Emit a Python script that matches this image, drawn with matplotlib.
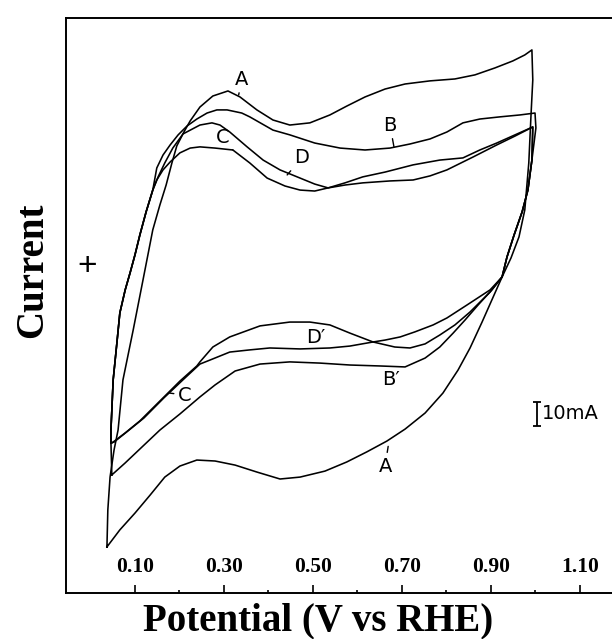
import matplotlib.pyplot as plt

# Cyclic voltammograms A-D, potential in V vs RHE, current in mA.
# Steep rise at the 0.05 V vertex shared by the B, C and D anodic sweeps
rise_v = [0.046, 0.046, 0.051, 0.060, 0.066, 0.078, 0.089, 0.100, 0.111, 0.125, 0.140]
rise_i = [-59.6, -54.2, -33.3, -16.7, -5.4, 4.2, 11.3, 18.8, 27.1, 36.7, 45.8]

# Fall from the 1.0 V vertex to the common crossing point (B, C, D)
fall_v = [0.992, 0.983, 0.970, 0.952, 0.936, 0.925]
fall_i = [58.3, 45.8, 36.7, 27.1, 17.9, 9.6]

# Curve A
a_up_v = [0.037, 0.039, 0.044, 0.053, 0.062, 0.073, 0.096, 0.118, 0.140, 0.156, 0.170,
          0.183, 0.194, 0.210, 0.224, 0.246, 0.275, 0.309, 0.336, 0.374, 0.410, 0.448,
          0.493, 0.538, 0.576, 0.617, 0.662, 0.707, 0.763, 0.819, 0.864, 0.909, 0.949,
          0.976, 0.992]
a_up_i = [-102.9, -87.5, -73.8, -62.5, -54.2, -33.3, -12.5, 8.3, 29.2, 39.6, 47.9,
          57.1, 64.2, 70.0, 74.6, 80.4, 85.0, 87.1, 84.6, 79.2, 75.0, 72.9,
          73.8, 77.1, 80.8, 84.6, 87.9, 90.0, 91.3, 92.1, 93.8, 96.7, 99.6,
          102.1, 104.2]
a_down_v = [0.994, 0.990, 0.985, 0.976, 0.963, 0.945, 0.925, 0.902, 0.880, 0.853, 0.826,
            0.792, 0.752, 0.707, 0.666, 0.621, 0.576, 0.527, 0.471, 0.426, 0.374, 0.325,
            0.280, 0.239, 0.201, 0.167, 0.134, 0.100, 0.066, 0.037]
a_down_i = [91.7, 77.1, 57.1, 37.5, 26.3, 17.5, 9.6, 0.0, -9.2, -20.0, -29.2,
            -38.8, -47.1, -53.8, -58.8, -63.3, -67.5, -71.3, -73.8, -74.6, -71.7, -68.8,
            -67.1, -66.7, -69.2, -73.8, -81.3, -88.8, -95.8, -102.9]

# Curve B
b_up_v = [0.149, 0.163, 0.179, 0.197, 0.217, 0.239, 0.262, 0.284, 0.307, 0.340, 0.358,
          0.410, 0.448, 0.504, 0.561, 0.617, 0.673, 0.718, 0.763, 0.801, 0.837, 0.875,
          0.920, 0.965, 0.999, 1.001]
b_up_i = [55.0, 60.4, 64.6, 68.8, 72.5, 75.4, 77.9, 79.2, 79.2, 77.9, 76.3,
          70.8, 68.8, 65.4, 63.3, 62.5, 63.3, 65.0, 67.1, 70.0, 73.8, 75.4,
          76.3, 77.1, 77.9, 71.7]
b_down_v = [0.902, 0.871, 0.842, 0.815, 0.785, 0.752, 0.707, 0.651, 0.583, 0.516, 0.448,
            0.381, 0.325, 0.280, 0.246, 0.201, 0.156, 0.111, 0.078, 0.048]
b_down_i = [4.2, -2.1, -8.3, -13.8, -19.6, -24.2, -27.9, -27.5, -27.1, -26.3, -25.8,
            -26.7, -29.6, -35.4, -40.4, -47.5, -54.2, -62.1, -67.9, -72.9]

# Curve C
c_up_v = [0.149, 0.163, 0.179, 0.201, 0.224, 0.246, 0.280, 0.320, 0.358, 0.397, 0.437,
          0.471, 0.504, 0.534, 0.572, 0.612, 0.673, 0.725, 0.763, 0.801, 0.837, 0.860,
          0.913, 0.954, 0.994]
c_up_i = [50.0, 54.2, 57.5, 61.3, 63.3, 63.8, 63.3, 62.5, 57.1, 50.8, 47.5,
          45.8, 45.4, 46.7, 47.9, 48.8, 49.6, 50.0, 51.7, 54.2, 57.5, 59.6,
          64.6, 68.3, 72.1]
c_down_v = [0.898, 0.846, 0.801, 0.770, 0.729, 0.696, 0.662, 0.635, 0.583, 0.538, 0.471,
            0.403, 0.358, 0.313, 0.269, 0.246, 0.210, 0.165, 0.120, 0.084, 0.053]
c_down_i = [4.2, -2.1, -7.5, -10.4, -13.3, -15.4, -16.7, -17.5, -19.2, -20.0, -20.4,
            -20.0, -20.8, -21.7, -25.0, -26.7, -32.9, -40.8, -49.2, -54.6, -59.2]

# Curve D
d_up_v = [0.152, 0.167, 0.185, 0.208, 0.246, 0.273, 0.291, 0.313, 0.352, 0.388, 0.426,
          0.471, 0.504, 0.534, 0.572, 0.612, 0.662, 0.725, 0.785, 0.837, 0.875, 0.913,
          0.954, 0.994]
d_up_i = [51.3, 57.1, 63.3, 69.2, 72.9, 73.8, 72.9, 70.0, 63.8, 58.3, 54.2,
          50.8, 48.3, 46.7, 48.8, 51.3, 53.3, 56.3, 58.3, 59.2, 62.5, 65.4,
          68.8, 72.1]
d_down_v = [0.898, 0.853, 0.819, 0.785, 0.752, 0.718, 0.684, 0.635, 0.583, 0.538, 0.493,
            0.448, 0.381, 0.313, 0.275, 0.246, 0.239, 0.201, 0.156, 0.111, 0.078, 0.048]
d_down_i = [3.3, -5.0, -10.4, -14.6, -18.3, -20.0, -19.6, -17.5, -13.8, -10.4, -9.2,
            -9.2, -10.8, -15.4, -19.6, -25.8, -27.5, -33.8, -42.1, -50.4, -55.4, -59.6]

b_start_v, b_start_i = [0.048], [-72.9]

loops = [
    (a_up_v + a_down_v, a_up_i + a_down_i),
    (b_start_v + rise_v + b_up_v + fall_v + b_down_v,
     b_start_i + rise_i + b_up_i + fall_i + b_down_i),
    (rise_v + c_up_v + fall_v + c_down_v + rise_v[:1],
     rise_i + c_up_i + fall_i + c_down_i + rise_i[:1]),
    (rise_v + d_up_v + fall_v + d_down_v,
     rise_i + d_up_i + fall_i + d_down_i),
]

major_ticks = [0.10, 0.30, 0.50, 0.70, 0.90, 1.10]
major_labels = ['0.10', '0.30', '0.50', '0.70', '0.90', '1.10']
minor_ticks = [0.20, 0.40, 0.60, 0.80, 1.00]

serif_bold = dict(family='Liberation Serif', weight='bold')

fig = plt.figure(figsize=(6.12, 6.39), dpi=100)
ax = fig.add_axes([66 / 612, 1 - 593 / 639, 1 - 66 / 612, 575 / 639])

for v, i in loops:
    ax.plot(v, i, color='black', lw=1.15, solid_joinstyle='round')

ax.set_xlim(-0.055, 1.172)
ax.set_ylim(-122.1, 117.5)

ax.set_xticks(major_ticks)
ax.set_xticklabels(major_labels, fontsize=15.5, **serif_bold)
ax.set_xticks(minor_ticks, minor=True)
ax.tick_params(axis='x', which='major', direction='in', length=6, width=1.2, pad=-26)
ax.tick_params(axis='x', which='minor', direction='in', length=2.2, width=1.2)
ax.set_yticks([])
ax.spines['right'].set_visible(False)
for side in ['left', 'bottom', 'top']:
    ax.spines[side].set_linewidth(1.4)

ax.set_xlabel('Potential (V vs RHE)', fontsize=28, **serif_bold)
ax.xaxis.set_label_coords(0.4615, -0.017)
ax.set_ylabel('Current', fontsize=28, **serif_bold)
ax.yaxis.set_label_coords(-0.028, 0.562)

ax.text(0.0385, 0.568, '+', transform=ax.transAxes, fontsize=24,
        family='Liberation Sans', ha='center', va='center')

# curve labels with short pointers
lab = dict(fontsize=14, family='DejaVu Sans', ha='center', va='center')
line = dict(arrowstyle='-', lw=1.0, color='black', shrinkA=1, shrinkB=0)
ax.annotate('A', xy=(0.333, 85.4), xytext=(0.340, 92.0), arrowprops=line, **lab)
ax.annotate('B', xy=(0.682, 63.8), xytext=(0.673, 72.9), arrowprops=line, **lab)
ax.annotate('C', xy=(0.320, 62.5), xytext=(0.298, 67.5), arrowprops=line, **lab)
ax.annotate('D', xy=(0.442, 52.1), xytext=(0.475, 59.2), arrowprops=line, **lab)
ax.text(0.507, -15.8, 'D\u2032', **lab)
ax.annotate('C', xy=(0.178, -38.8), xytext=(0.212, -39.6), arrowprops=line, **lab)
ax.text(0.676, -33.3, 'B\u2032', **lab)
ax.annotate('A', xy=(0.669, -61.0), xytext=(0.662, -69.2), arrowprops=line, **lab)

# 10 mA scale bar
ax.errorbar([1.003], [-47.5], yerr=[5.0], fmt='none', ecolor='black',
            elinewidth=1.3, capsize=2.6, capthick=1.3)
ax.text(1.015, -47.5, '10mA', fontsize=14, family='DejaVu Sans', va='center', ha='left')

fig.savefig('out.png', dpi=100)
